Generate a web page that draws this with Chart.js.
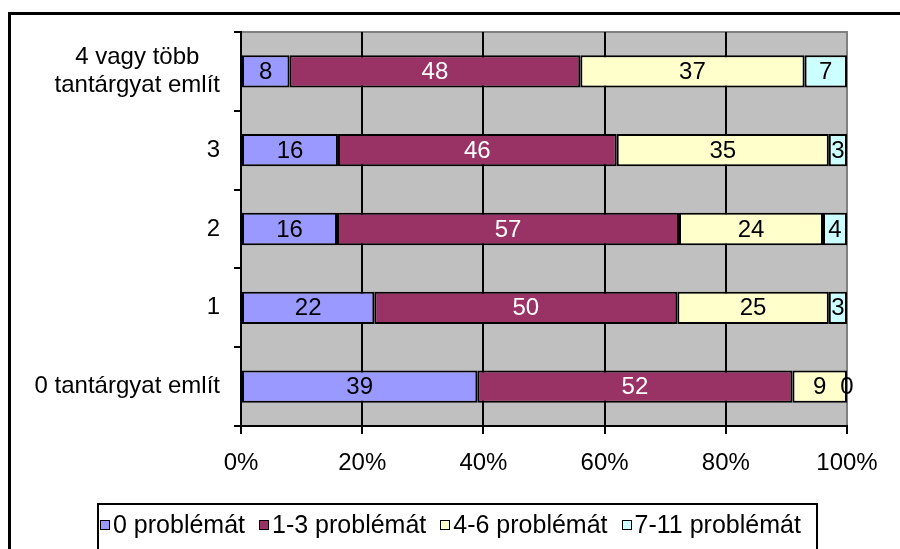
<!DOCTYPE html>
<html>
<head>
<meta charset="utf-8">
<script src="https://cdn.jsdelivr.net/npm/chart.js@4/dist/chart.umd.min.js"></script>
<style>
  html, body { margin: 0; padding: 0; background: #fff; }
  #wrap { position: relative; width: 900px; height: 549px; overflow: hidden; }
  #frame { position: absolute; left: 8px; top: 12px; width: 1000px; height: 700px; border: 3px solid #000; box-sizing: border-box; }
  #chart { position: absolute; left: 0; top: 0; }
  #legend { position: absolute; left: 97px; top: 503px; width: 721px; height: 80px; border: 2px solid #000; box-sizing: border-box;
            display: flex; align-items: flex-start; padding: 5px 0 0 1px;
            font-family: "Liberation Sans", Arial, sans-serif; font-size: 25px; color: #000; }
  .item { display: flex; align-items: center; margin-right: 14px; white-space: nowrap; }
  .box { width: 8px; height: 8px; border: 1px solid #000; margin-right: 3px; }
</style>
</head>
<body>
<div id="wrap">
  <div id="frame"></div>
  <canvas id="chart" width="900" height="549"></canvas>
  <div id="legend"></div>
</div>
<script>
// categories, top to bottom
const categories = [["4 vagy több", "tantárgyat említ"], "3", "2", "1", "0 tantárgyat említ"];
const seriesNames = ["0 problémát", "1-3 problémát", "4-6 problémát", "7-11 problémát"];
const colors = ["#9999FF", "#993366", "#FFFFCC", "#CCFFFF"];
const labelColors = ["#000", "#fff", "#000", "#000"];

// values per series, one per category (top to bottom)
const zeroProblems = [8, 16, 16, 22, 39];
const oneToThree = [48, 46, 57, 50, 52];
const fourToSix = [37, 35, 24, 25, 9];
const sevenToEleven = [7, 3, 4, 3, 0];

const xTicks = [0, 20, 40, 60, 80, 100];

const allSeries = [zeroProblems, oneToThree, fourToSix, sevenToEleven];
const rowSums = categories.map((_, i) => allSeries.reduce((s, arr) => s + arr[i], 0));

const FONT = "Liberation Sans, Arial, sans-serif";

// gray plot area with a gray frame on top/right
const plotBg = {
  id: "plotBg",
  beforeDraw(chart) {
    const { ctx, chartArea: a } = chart;
    ctx.save();
    ctx.fillStyle = "#C0C0C0";
    ctx.fillRect(a.left, a.top, a.right - a.left, a.bottom - a.top);
    ctx.strokeStyle = "#808080";
    ctx.lineWidth = 2;
    ctx.beginPath();
    ctx.moveTo(a.left, a.top);
    ctx.lineTo(a.right, a.top);
    ctx.lineTo(a.right, a.bottom);
    ctx.stroke();
    ctx.restore();
  }
};

// value labels centred in each segment
const segLabels = {
  id: "segLabels",
  afterDatasetsDraw(chart) {
    const ctx = chart.ctx;
    ctx.save();
    ctx.font = "24px " + FONT;
    ctx.textAlign = "center";
    ctx.textBaseline = "middle";
    chart.data.datasets.forEach((ds, di) => {
      chart.getDatasetMeta(di).data.forEach((el, i) => {
        ctx.fillStyle = labelColors[di];
        ctx.fillText(String(ds.raw[i]), (el.x + el.base) / 2, el.y + 1);
      });
    });
    ctx.restore();
  }
};

// category labels: block right-aligned to the axis, lines centred within the block
const catLabels = {
  id: "catLabels",
  afterDraw(chart) {
    const ctx = chart.ctx;
    const y = chart.scales.y;
    ctx.save();
    ctx.font = "24px " + FONT;
    ctx.fillStyle = "#000";
    ctx.textAlign = "center";
    ctx.textBaseline = "middle";
    const right = y.right - 21;
    categories.forEach((c, i) => {
      const lines = Array.isArray(c) ? c : [c];
      const w = Math.max(...lines.map(l => ctx.measureText(l).width));
      const cy = y.getPixelForTick(i);
      const lh = 28;
      lines.forEach((l, k) => {
        ctx.fillText(l, right - w / 2, cy + (k - (lines.length - 1) / 2) * lh);
      });
    });
    ctx.restore();
  }
};

const chart = new Chart(document.getElementById("chart"), {
  type: "bar",
  data: {
    labels: categories,
    datasets: allSeries.map((arr, di) => ({
      label: seriesNames[di],
      data: arr.map((v, i) => v / rowSums[i] * 100),
      raw: arr,
      backgroundColor: colors[di],
      borderColor: "#000",
      borderWidth: 2,
      borderSkipped: false,
      barPercentage: 0.41,
      categoryPercentage: 1
    }))
  },
  options: {
    indexAxis: "y",
    responsive: false,
    animation: false,
    layout: { padding: { left: 0, top: 32, right: 53, bottom: 63 } },
    plugins: {
      legend: { display: false },
      tooltip: { enabled: false }
    },
    scales: {
      x: {
        stacked: true,
        min: 0,
        max: 100,
        afterBuildTicks(scale) { scale.ticks = xTicks.map(v => ({ value: v })); },
        afterFit(scale) { scale.height = 60; },
        ticks: {
          callback: v => v + "%",
          color: "#000",
          padding: 15,
          font: { family: FONT, size: 24 }
        },
        grid: {
          color: ctx => (ctx.tick && ctx.tick.value === 100 ? "#808080" : "#000"),
          tickColor: "#000",
          tickLength: 8,
          lineWidth: 2
        },
        border: { color: "#000", width: 2 }
      },
      y: {
        stacked: true,
        afterFit(scale) { scale.width = 241; },
        ticks: { color: "rgba(0,0,0,0)", font: { family: FONT, size: 24 } },
        grid: {
          offset: true,
          drawOnChartArea: false,
          color: "#000",
          tickLength: 7,
          lineWidth: 2
        },
        border: { color: "#000", width: 2 }
      }
    }
  },
  plugins: [plotBg, segLabels, catLabels]
});

// html legend from the datasets
const legend = document.getElementById("legend");
chart.data.datasets.forEach(ds => {
  const item = document.createElement("div");
  item.className = "item";
  const box = document.createElement("span");
  box.className = "box";
  box.style.background = ds.backgroundColor;
  const txt = document.createElement("span");
  txt.textContent = ds.label;
  item.appendChild(box);
  item.appendChild(txt);
  legend.appendChild(item);
});
</script>
</body>
</html>
